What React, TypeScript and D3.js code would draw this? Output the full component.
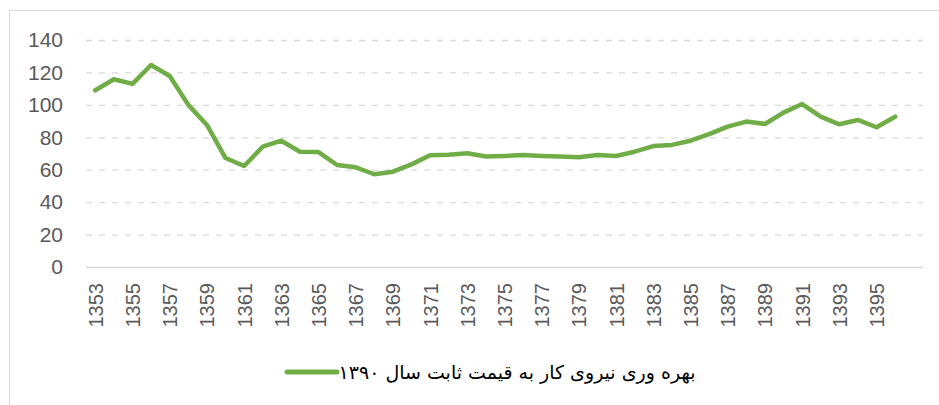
import React, { useEffect, useRef } from "react";
import * as d3 from "d3";

// years on the category axis (last slot is empty)
const years = d3.range(1353, 1398).map(String);
const tickYears = d3.range(1353, 1396, 2).map(String);
const yTicks = [0, 20, 40, 60, 80, 100, 120, 140];

// labour productivity at constant 1390 prices
const productivity = [
  109, 115.8, 112.9, 124.6, 117.8, 100, 87.6, 67.2, 62.3, 74.2, 77.9, 71.1,
  70.9, 62.9, 61.5, 57.2, 58.8, 63.3, 68.9, 69.3, 70.1, 68.1, 68.5, 69.1,
  68.5, 68.1, 67.7, 69.1, 68.5, 71.1, 74.6, 75.3, 77.9, 81.9, 86.6, 89.7,
  88.2, 95.2, 100.5, 92.7, 88, 90.7, 86.2, 92.7,
];

const legendLabel = "بهره وری نیروی کار به قیمت ثابت سال ۱۳۹۰";

const App: React.FC = () => {
  const ref = useRef<SVGSVGElement | null>(null);

  useEffect(() => {
    const el = ref.current;
    if (!el) return;
    const svg = d3.select(el);
    svg.selectAll("*").remove();

    const width = 939;
    const height = 405;
    const left = 86;
    const right = 923;
    const top = 40;
    const bottom = 267;
    const green = "#70AD47";
    const textColor = "#595959";
    const font = "'Liberation Sans', Arial, sans-serif";

    svg.append("rect").attr("width", width).attr("height", height).attr("fill", "#fff");

    // chart frame (runs off the right/bottom edge)
    svg
      .append("rect")
      .attr("x", 9.5)
      .attr("y", 10.5)
      .attr("width", 1000)
      .attr("height", 500)
      .attr("fill", "none")
      .attr("stroke", "#d9d9d9");

    const x = d3.scaleBand<string>().domain(years).range([left, right]).paddingInner(0).paddingOuter(0);
    const y = d3.scaleLinear().domain([0, 140]).range([bottom, top]);
    const cx = (yr: string) => (x(yr) ?? 0) + x.bandwidth() / 2;

    // gridlines
    svg
      .append("g")
      .selectAll("line")
      .data(yTicks.filter((d) => d > 0))
      .enter()
      .append("line")
      .attr("x1", left)
      .attr("x2", right)
      .attr("y1", (d) => y(d) + 0.5)
      .attr("y2", (d) => y(d) + 0.5)
      .attr("stroke", "#d9d9d9")
      .attr("stroke-width", 1.3)
      .attr("stroke-dasharray", "6,7");

    svg
      .append("line")
      .attr("x1", left)
      .attr("x2", right)
      .attr("y1", y(0) + 0.5)
      .attr("y2", y(0) + 0.5)
      .attr("stroke", "#d9d9d9")
      .attr("stroke-width", 1.3);

    // y labels
    svg
      .append("g")
      .selectAll("text")
      .data(yTicks)
      .enter()
      .append("text")
      .attr("x", 63)
      .attr("y", (d) => y(d))
      .attr("dy", "0.35em")
      .attr("text-anchor", "end")
      .attr("fill", textColor)
      .style("font", `21px ${font}`)
      .text((d) => d);

    // x labels, rotated
    svg
      .append("g")
      .selectAll("text")
      .data(tickYears)
      .enter()
      .append("text")
      .attr("transform", (d) => `translate(${cx(d) + 0.5},283) rotate(-90)`)
      .attr("dy", "0.35em")
      .attr("text-anchor", "end")
      .attr("fill", textColor)
      .style("font", `20px ${font}`)
      .text((d) => d);

    // series line
    const line = d3
      .line<number>()
      .x((_, i) => cx(years[i]))
      .y((d) => y(d));

    svg
      .append("path")
      .datum(productivity)
      .attr("d", line)
      .attr("fill", "none")
      .attr("stroke", green)
      .attr("stroke-width", 4.5)
      .attr("stroke-linejoin", "round")
      .attr("stroke-linecap", "round");

    // legend
    svg
      .append("line")
      .attr("x1", 287)
      .attr("x2", 337)
      .attr("y1", 372)
      .attr("y2", 372)
      .attr("stroke", green)
      .attr("stroke-width", 5)
      .attr("stroke-linecap", "round");

    svg
      .append("text")
      .attr("x", 517)
      .attr("y", 372)
      .attr("dy", "0.35em")
      .attr("text-anchor", "middle")
      .attr("direction", "rtl")
      .attr("fill", "#000")
      .style("font", "19px 'DejaVu Sans', sans-serif")
      .text(legendLabel);
  }, []);

  return (
    <svg
      ref={ref}
      width={939}
      height={405}
      style={{ position: "absolute", left: 0, top: 0, display: "block" }}
    />
  );
};

export default App;
